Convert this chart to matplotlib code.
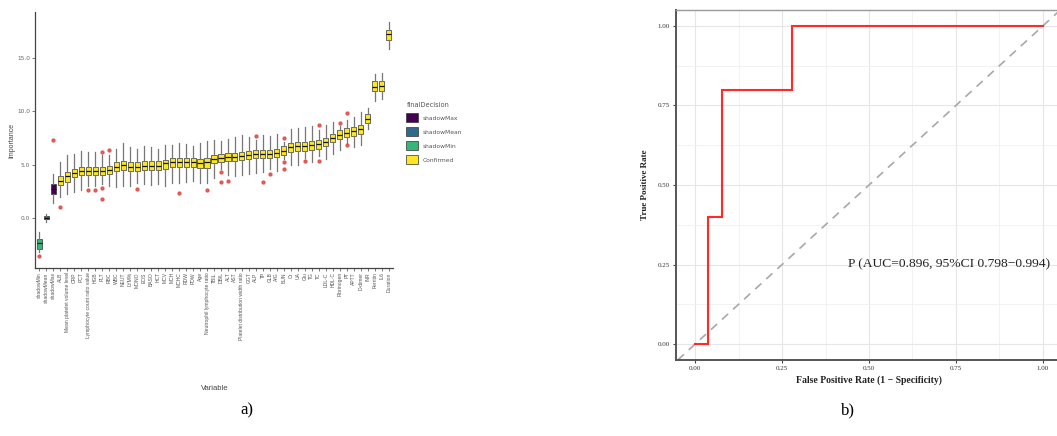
import matplotlib
matplotlib.use("Agg")
import matplotlib.pyplot as plt
from matplotlib.patches import Patch

# ---------------- Panel a data (Boruta importance) ----------------
variables = ["shadowMin", "shadowMean", "shadowMax",
             "ALB", "Mean platelet volume level", "CRP", "PCT", "Lymphocyte count ratio value",
             "HGB", "PLT", "RBC", "WBC", "NEUT", "LYM%", "MONO", "EOS", "BASO", "HCT", "MCV",
             "MCH", "MCHC", "RDW", "PDW", "Age", "Neutrophil lymphocyte ratio", "TBIL", "DBIL", "ALT",
             "AST", "Platelet distribution width ratio", "GGT", "ALP", "TP", "GLB", "A/G",
             "BUN", "Cr", "UA", "Glu", "TG", "TC", "LDL-C", "HDL-C", "Fibrinogen", "PT",
             "APTT", "D-dimer", "INR", "Ferritin", "IL6", "Duration"]
decision = ["shadowMin", "shadowMean", "shadowMax"] + ["Confirmed"] * 48

medians = [-2.4, 0.0, 2.7,
           3.5, 3.9, 4.2, 4.4, 4.4, 4.4, 4.4, 4.5, 4.8, 5.0,
           4.8, 4.8, 4.9, 4.9, 4.9, 5.1, 5.2, 5.2, 5.2, 5.2,
           5.1, 5.2, 5.5, 5.6, 5.7, 5.7, 5.8, 5.9, 6.0, 6.0,
           6.0, 6.1, 6.3, 6.6, 6.7, 6.7, 6.8, 6.9, 7.1, 7.5,
           7.8, 8.0, 8.1, 8.3, 9.3, 12.3, 12.4, 17.2]
q1 = [-2.9, -0.15, 2.2,
      3.1, 3.4, 3.8, 4.0, 4.0, 4.0, 4.0, 4.1, 4.4, 4.5,
      4.4, 4.4, 4.5, 4.5, 4.5, 4.6, 4.8, 4.8, 4.8, 4.8,
      4.7, 4.7, 5.1, 5.2, 5.3, 5.3, 5.4, 5.5, 5.6, 5.6,
      5.6, 5.7, 5.9, 6.2, 6.3, 6.3, 6.4, 6.5, 6.7, 7.1,
      7.4, 7.6, 7.7, 7.9, 8.9, 11.9, 11.9, 16.7]
q3 = [-2.0, 0.15, 3.2,
      3.9, 4.3, 4.6, 4.8, 4.8, 4.8, 4.8, 4.9, 5.2, 5.3,
      5.2, 5.2, 5.3, 5.3, 5.3, 5.4, 5.6, 5.6, 5.6, 5.6,
      5.5, 5.6, 5.9, 6.0, 6.1, 6.1, 6.2, 6.3, 6.4, 6.4,
      6.4, 6.5, 6.7, 7.0, 7.1, 7.1, 7.2, 7.3, 7.5, 7.9,
      8.2, 8.4, 8.5, 8.7, 9.7, 12.8, 12.8, 17.6]
whisk_lo = [-3.2, -0.4, 1.4,
            2.0, 2.2, 2.4, 2.6, 3.0, 3.0, 3.2, 3.0, 2.9, 3.0,
            3.0, 3.3, 3.2, 3.1, 3.2, 3.0, 3.3, 3.3, 3.4, 3.5,
            3.3, 3.3, 3.7, 4.6, 4.0, 3.9, 4.0, 4.1, 4.2, 4.3,
            4.6, 4.4, 5.5, 5.0, 5.0, 5.6, 5.2, 5.8, 5.5, 6.0,
            6.4, 7.0, 6.6, 6.8, 8.3, 11.0, 11.1, 15.8]
whisk_hi = [-1.3, 0.4, 4.1,
            5.2, 5.9, 6.0, 6.3, 6.2, 6.2, 5.9, 5.9, 6.5, 7.0,
            6.6, 6.5, 6.7, 6.6, 6.5, 6.8, 6.8, 7.0, 6.9, 6.7,
            7.0, 7.2, 7.3, 7.2, 7.4, 7.6, 7.8, 7.6, 7.3, 7.8,
            7.7, 7.9, 7.1, 8.3, 8.4, 8.5, 8.6, 8.2, 8.7, 9.0,
            8.6, 9.2, 9.5, 9.9, 10.3, 13.5, 13.6, 18.4]
outliers = {0: [-3.6], 2: [7.3], 3: [1.0], 7: [2.6], 8: [2.6], 9: [6.2, 2.8, 1.8],
            10: [6.4], 14: [2.7], 20: [2.3], 24: [2.6], 26: [4.3, 3.4], 27: [3.5],
            31: [7.7], 32: [3.4], 33: [4.1], 35: [7.5, 5.2, 4.6], 38: [5.3],
            40: [8.7, 5.3], 43: [8.9], 44: [9.8, 6.8]}
yticks_a = [0, 5, 10, 15]
ytick_labels_a = ["0.0", "5.0", "10.0", "15.0"]

legend_order = ["shadowMax", "shadowMean", "shadowMin", "Confirmed"]
palette = {"shadowMax": "#440154", "shadowMean": "#31688E",
           "shadowMin": "#35B779", "Confirmed": "#FDE725"}

# ---------------- Panel b data (ROC) ----------------
fpr = [0.0, 0.036, 0.036, 0.077, 0.077, 0.278, 0.278, 1.0]
tpr = [0.0, 0.0, 0.40, 0.40, 0.80, 0.80, 1.0, 1.0]
auc_text = "P (AUC=0.896, 95%CI 0.798\u22120.994)"
ticks_b = [0.0, 0.25, 0.5, 0.75, 1.0]
tick_labels_b = ["0.00", "0.25", "0.50", "0.75", "1.00"]

W, H = 1057, 436
fig = plt.figure(figsize=(W / 100, H / 100), dpi=100)

# ================= Panel a =================
axa = fig.add_axes([35 / W, 168 / H, 358 / W, 256 / H])
stats = []
for i in range(len(variables)):
    stats.append(dict(med=medians[i], q1=q1[i], q3=q3[i],
                      whislo=whisk_lo[i], whishi=whisk_hi[i],
                      fliers=outliers.get(i, []), label=variables[i]))
bp = axa.bxp(stats, positions=list(range(len(variables))), widths=0.72,
             patch_artist=True, showfliers=True,
             boxprops=dict(linewidth=0.5, edgecolor="#333333"),
             medianprops=dict(color="#111111", linewidth=0.9),
             whiskerprops=dict(color="#777777", linewidth=0.9),
             capprops=dict(linewidth=0),
             flierprops=dict(marker="o", markersize=2.1, markerfacecolor="#E04A44",
                             markeredgecolor="#E04A44", alpha=0.85))
for patch, d in zip(bp["boxes"], decision):
    patch.set_facecolor(palette[d])

axa.set_xlim(-0.6, len(variables) - 0.4)
axa.set_ylim(-4.7, 19.3)
axa.set_yticks(yticks_a)
axa.set_yticklabels(ytick_labels_a)
axa.set_xticks(list(range(len(variables))))
axa.set_xticklabels(variables, rotation=90, fontsize=3.6, color="#555555",
                    va="top", ha="center", family="Liberation Sans")
axa.tick_params(axis="y", labelsize=4.2, labelcolor="#666666", length=2, width=0.5,
                color="#444444", pad=1.5)
axa.tick_params(axis="x", length=2, width=0.5, color="#444444", pad=1)
for s in ["top", "right"]:
    axa.spines[s].set_visible(False)
for s in ["left", "bottom"]:
    axa.spines[s].set_color("#444444")
    axa.spines[s].set_linewidth(0.9)
axa.set_ylabel("Importance", fontsize=5, color="#444444", labelpad=1,
               family="Liberation Sans")
fig.text(215 / W, 1 - 388 / H, "Variable", fontsize=5.5, color="#444444",
         ha="center", va="center", family="Liberation Sans")

handles = [Patch(facecolor=palette[k], edgecolor="#333333", linewidth=0.5, label=k)
           for k in legend_order]
leg = fig.legend(handles=handles, title="finalDecision", loc="upper left",
                 bbox_to_anchor=(404 / W, 1 - 100 / H), frameon=False,
                 fontsize=4.3, title_fontsize=4.8, handlelength=1.9, handleheight=1.9,
                 labelspacing=0.85, handletextpad=0.9, borderaxespad=0)
leg._legend_box.align = "left"
for t in leg.get_texts():
    t.set_color("#555555")
leg.get_title().set_color("#555555")

# ================= Panel b =================
axb = fig.add_axes([676 / W, 76 / H, 386 / W, 350 / H])
axb.set_xlim(-0.055, 1.055)
axb.set_ylim(-0.05, 1.05)
axb.set_xticks(ticks_b)
axb.set_yticks(ticks_b)
axb.set_xticks([0.125, 0.375, 0.625, 0.875], minor=True)
axb.set_yticks([0.125, 0.375, 0.625, 0.875], minor=True)
axb.set_xticklabels(tick_labels_b, family="Liberation Serif", fontsize=5)
axb.set_yticklabels(tick_labels_b, family="Liberation Serif", fontsize=5)
axb.grid(True, which="major", color="#E6E6E6", linewidth=0.8)
axb.grid(True, which="minor", color="#F0F0F0", linewidth=0.6)
axb.set_axisbelow(True)
axb.tick_params(which="major", length=2.5, width=0.8, color="#444444",
                labelcolor="#333333", pad=2)
axb.tick_params(which="minor", length=0)
axb.axline((0, 0), (1, 1), color="#A8A8A8", linestyle=(0, (5, 4)), linewidth=1.2)
axb.plot(fpr, tpr, color="#FF2A2A", linewidth=1.5, solid_joinstyle="miter")
axb.text(0.44, 0.25, auc_text, family="Liberation Serif", fontsize=9.7,
         color="#222222", ha="left", va="center")
for s in ["left", "bottom"]:
    axb.spines[s].set_color("#555555")
    axb.spines[s].set_linewidth(1.4)
for s in ["top", "right"]:
    axb.spines[s].set_color("#9a9a9a")
    axb.spines[s].set_linewidth(1.0)
axb.set_ylabel("True Positive Rate", family="Liberation Serif", fontweight="bold",
               fontsize=6.5, color="#222222", labelpad=6)
axb.set_xlabel("False Positive Rate (1 \u2212 Specificity)", family="Liberation Serif",
               fontweight="bold", fontsize=7, color="#222222", labelpad=3)

# captions
fig.text(247 / W, 1 - 410 / H, "a)", family="Liberation Serif", fontsize=12,
         ha="center", va="center")
fig.text(848 / W, 1 - 410 / H, "b)", family="Liberation Serif", fontsize=12,
         ha="center", va="center")

fig.savefig("out.png", dpi=100)
